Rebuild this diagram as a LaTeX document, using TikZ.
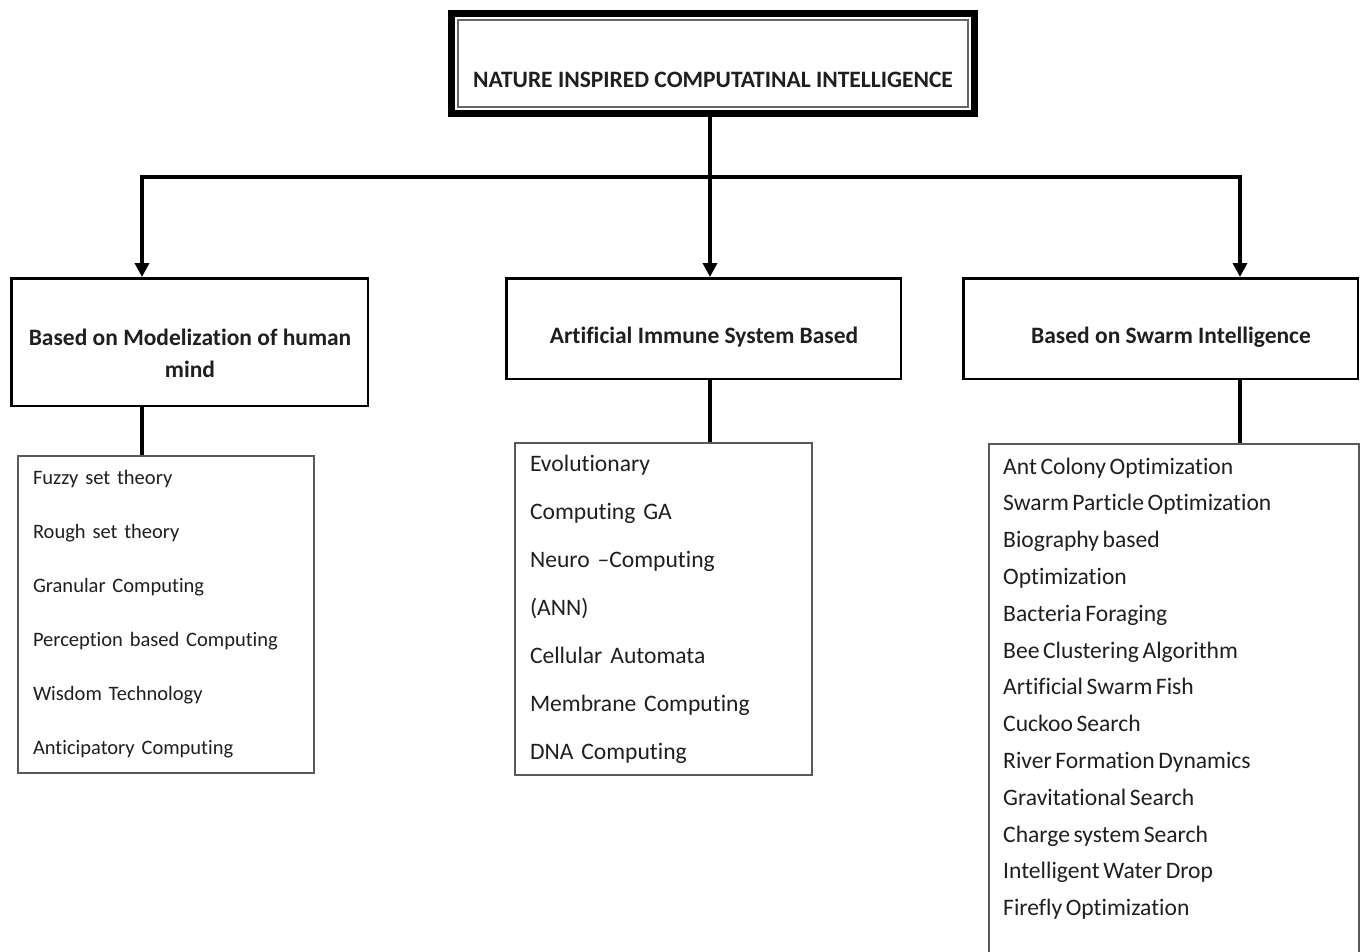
\documentclass[tikz,border=0pt]{standalone}
\usepackage{fontspec}
\setmainfont{Carlito}[Ligatures=NoCommon]
\usetikzlibrary{arrows.meta}
\newcommand\setwordgap[1]{\spaceskip=#1\relax}
\begin{document}
\begin{tikzpicture}[x=1pt,y=-1pt,
  conn/.style={line width=4pt, black, line join=miter},
  tip/.style={-{Triangle[width=14pt,length=14pt]}},
  headbox/.style={draw=black, line width=2.5pt, inner sep=0pt},
  headtext/.style={font=\bfseries\fontsize{23.5}{32}\selectfont, align=center, text=black!88},
  listbox/.style={draw=black!65, line width=2pt, inner xsep=15pt, inner ysep=0pt, align=left, text=black!88},
  listtext/.style={inner sep=0pt, align=left, text=black!88},
]
\path[use as bounding box] (0,0) rectangle (1368,951);
% top box
\node[draw=black, line width=7pt, minimum width=523pt, minimum height=100pt, inner sep=0pt] (top) at (713,63.5) {};
\node[draw=black!60, line width=1.5pt, minimum width=510pt, minimum height=87pt, inner sep=0pt] (topin) at (top.center) {};
\node[font=\bfseries\fontsize{23.5}{26}\selectfont, text=black!88] (title) at (713,80) {NATURE INSPIRED COMPUTATINAL INTELLIGENCE};
% heading boxes
\node[headbox, minimum width=356.5pt, minimum height=127.5pt] (b1) at (189.5,342) {};
\node[headtext] (b1t) at (190,353) {Based on Modelization of human\\mind};
\node[headbox, minimum width=394.5pt, minimum height=100.5pt] (b2) at (703.5,328.5) {};
\node[headtext] (b2t) at (704,337) {Artificial Immune System Based};
\node[headbox, minimum width=394.5pt, minimum height=100.5pt] (b3) at (1160.5,328.5) {};
\node[headtext] (b3t) at (1171,337) {Based on Swarm Intelligence};
% connectors
\coordinate (j0) at (710,177);
\coordinate (jl) at (142,177);
\coordinate (jr) at (1240,177);
\draw[conn] (top.south -| j0) -- (j0);
\draw[conn, {Triangle[width=14pt,length=14pt]}-{Triangle[width=14pt,length=14pt]}] (jl |- b1.north) -- (jl) -- (jr) -- (jr |- b3.north);
\draw[conn, tip] (j0) -- (j0 |- b2.north);
% lists
\node[listbox, minimum width=296pt, text width=266pt, minimum height=317pt, font=\fontsize{20.5}{54}\selectfont] (l1) at (166,614.5)
  {Fuzzy set theory\\Rough set theory\\Granular Computing\\Perception based Computing\\Wisdom Technology\\Anticipatory Computing};
\node[listbox, minimum width=297pt, text width=267pt, minimum height=332pt, font=\fontsize{23.6}{48}\selectfont] (l2) at (663.5,609)
  {Evolutionary\\Computing GA\\Neuro --Computing\\(ANN)\\Cellular Automata\\Membrane Computing\\DNA Computing};
\node[listbox, anchor=north, minimum width=370pt, minimum height=560pt] (l3) at (1174,443) {};
\node[listtext, anchor=north west, text width=340pt, font=\fontsize{23.6}{36.8}\selectfont] (l3t) at (1003,457.5)
  {\setwordgap{3.6pt}Ant Colony Optimization\\Swarm Particle Optimization\\Biography based\\Optimization\\Bacteria Foraging\\Bee Clustering Algorithm\\Artificial Swarm Fish\\Cuckoo Search\\River Formation Dynamics\\Gravitational Search\\Charge system Search\\Intelligent Water Drop\\Firefly Optimization};
% down connectors
\draw[conn] (b1.south -| jl) -- (l1.north -| jl);
\draw[conn] (b2.south -| j0) -- (l2.north -| j0);
\draw[conn] (b3.south -| jr) -- (l3.north -| jr);
\end{tikzpicture}
\end{document}
